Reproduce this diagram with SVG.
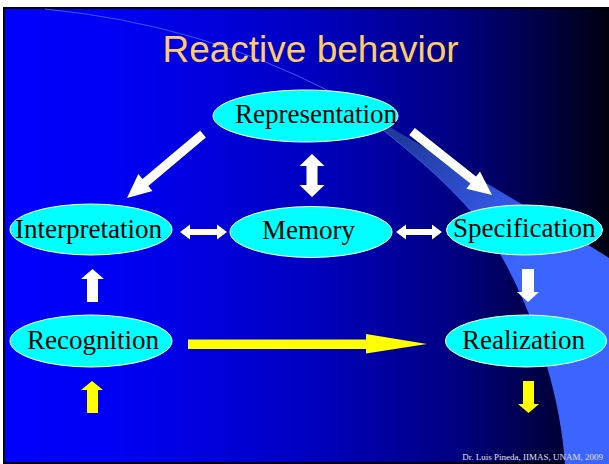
<svg xmlns="http://www.w3.org/2000/svg" width="609" height="464" viewBox="0 0 609 464">
  <defs>
    <linearGradient id="bg" x1="0" y1="0" x2="609" y2="0" gradientUnits="userSpaceOnUse">
      <stop offset="0" stop-color="#0000FF"/>
      <stop offset="0.2" stop-color="#0000F2"/>
      <stop offset="0.5" stop-color="#0000C2"/>
      <stop offset="0.75" stop-color="#000080"/>
      <stop offset="0.9" stop-color="#000040"/>
      <stop offset="1" stop-color="#000010"/>
    </linearGradient>
    <linearGradient id="swoosh" x1="400" y1="140" x2="520" y2="260" gradientUnits="userSpaceOnUse">
      <stop offset="0" stop-color="#203A9C"/>
      <stop offset="1" stop-color="#3C64FF"/>
    </linearGradient>
    <style>
      .node ellipse { fill: #00FFFF; stroke: #FFFFFF; stroke-width: 1; }
      .node text { font-family: "Liberation Serif", "Times New Roman", serif; font-size: 27px; fill: #000000; }
      .white { fill: #FFFFFF; }
      .yellow { fill: #FFFF00; }
      .title { font-family: "Liberation Sans", Arial, sans-serif; font-size: 37px; fill: #FFCC66; }
      .credit { font-family: "Liberation Serif", "Times New Roman", serif; font-size: 9px; fill: #E0E0E0; }
    </style>
  </defs>

  <!-- slide background -->
  <rect x="0" y="0" width="609" height="464" fill="#FFFFFF"/>
  <rect x="4" y="8" width="606" height="455" fill="url(#bg)" stroke="#000000" stroke-width="2"/>

  <!-- decorative swoosh -->
  <g id="swoosh-band">
    <path d="M 333 93 C 400 135, 520 200, 609 258 L 609 464 L 565 464 C 560 380, 520 270, 470 210 C 440 175, 390 133, 333 93 Z" fill="url(#swoosh)"/>
    <path d="M 45 9 Q 200 24 333 93 C 390 133, 440 175, 470 210" fill="none" stroke="#3A5CF0" stroke-width="1"/>
  </g>

  <text class="title" x="310.5" y="62" text-anchor="middle">Reactive behavior</text>

  <!-- connectors -->
  <g id="connectors">
    <!-- Representation -> Interpretation -->
    <polygon class="white" points="200.1,130.6 142.5,179.1 138.3,174.1 127,198 152.5,190.9 148.3,185.9 205.9,137.4"/>
    <!-- Representation -> Specification -->
    <polygon class="white" points="414.8,128 476,176.6 480,171.5 492,195 466.4,188.7 470.4,183.6 409.2,135"/>
    <!-- Representation <-> Memory -->
    <polygon class="white" points="312,154 324.5,166 317.5,166 317.5,185 324.5,185 312,197 299.5,185 306.5,185 306.5,166 299.5,166"/>
    <!-- Interpretation <-> Memory -->
    <polygon class="white" points="180,232 190,224.5 190,229 217,229 217,224.5 227,232 217,239.5 217,235 190,235 190,239.5"/>
    <!-- Memory <-> Specification -->
    <polygon class="white" points="396,232 406,224.5 406,229 432,229 432,224.5 442,232 432,239.5 432,235 406,235 406,239.5"/>
    <!-- Specification -> Realization -->
    <polygon class="white" points="522,269 534,269 534,292 539,292 528,302 517,292 522,292"/>
    <!-- Recognition -> Interpretation -->
    <polygon class="white" points="92.5,269 104,279 98,279 98,302 87,302 87,279 81,279"/>
    <!-- Recognition -> Realization -->
    <polygon class="yellow" points="188,339.5 366,339.5 366,334 427,344 366,353.5 366,349 188,349"/>
    <!-- input into Recognition -->
    <polygon class="yellow" points="92,381 103,390 98,390 98,413 87,413 87,390 81,390"/>
    <!-- output from Realization -->
    <polygon class="yellow" points="523,381 534,381 534,404 539,404 528.5,413 518,404 523,404"/>
  </g>

  <!-- nodes -->
  <g id="representation" class="node">
    <ellipse cx="305.5" cy="116" rx="92.5" ry="26"/>
    <text x="235" y="123">Representation</text>
  </g>
  <g id="interpretation" class="node">
    <ellipse cx="91" cy="229.5" rx="81" ry="25.5"/>
    <text x="15" y="238">Interpretation</text>
  </g>
  <g id="memory" class="node">
    <ellipse cx="311" cy="232" rx="81" ry="25.5"/>
    <text x="262" y="239">Memory</text>
  </g>
  <g id="specification" class="node">
    <ellipse cx="524.5" cy="230" rx="78" ry="25"/>
    <text x="453" y="237">Specification</text>
  </g>
  <g id="recognition" class="node">
    <ellipse cx="91" cy="341" rx="81" ry="26"/>
    <text x="27" y="349">Recognition</text>
  </g>
  <g id="realization" class="node">
    <ellipse cx="526" cy="341" rx="80.5" ry="26"/>
    <text x="462" y="349">Realization</text>
  </g>

  <text class="credit" x="603" y="460" text-anchor="end">Dr. Luis Pineda, IIMAS, UNAM, 2009</text>
</svg>
